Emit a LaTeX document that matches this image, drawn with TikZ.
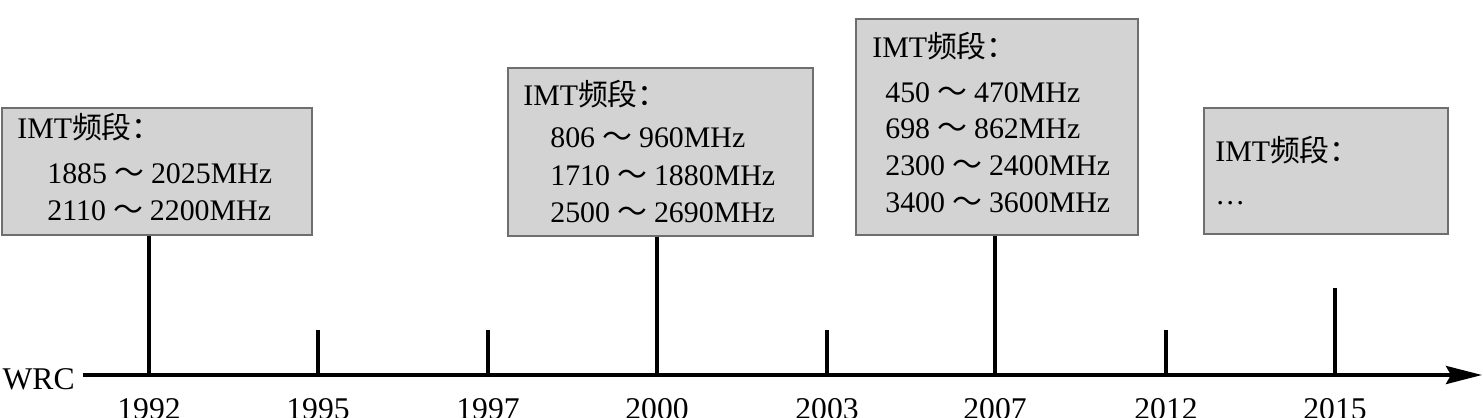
\documentclass[tikz,border=0pt]{standalone}
\usepackage{fontspec}
\setmainfont{Liberation Serif}
\newfontfamily\cjk{Noto Sans CJK SC}
\usetikzlibrary{arrows.meta,positioning}
\definecolor{boxfill}{RGB}{211,211,211}
\definecolor{boxline}{RGB}{110,110,110}
\newcommand{\band}[2]{#1\hspace{4pt}{\cjk ～}\hspace{4pt}#2MHz}
\newcommand{\imt}{IMT{\cjk 频段：}}
\tikzset{
  imtbox/.style={draw=boxline, fill=boxfill, line width=1.1pt, inner sep=0pt, anchor=north west},
  lab/.style={inner sep=0pt, anchor=base west, font=\fontsize{17}{20}\selectfont},
  yearlab/.style={inner sep=0pt, font=\fontsize{18}{20}\selectfont},
  axis/.style={line width=2.3pt, -{Stealth[length=0.72cm, width=0.36cm, inset=0.1cm]}},
  tick/.style={line width=2.3pt}
}
\begin{document}
\begin{tikzpicture}[x=0.02cm, y=-0.02cm]
\useasboundingbox (0,0) rectangle (1483,417);
% boxes
\node[imtbox, minimum width=6.2cm, minimum height=2.54cm] (box1992) at (1,107) {};
\node[imtbox, minimum width=6.1cm, minimum height=3.36cm] (box2000) at (507,67) {};
\node[imtbox, minimum width=5.64cm, minimum height=4.32cm] (box2007) at (855,18) {};
\node[imtbox, minimum width=4.88cm, minimum height=2.52cm] (box2015) at (1203,107) {};
% box texts
\node[lab] (h1992) at (17,138) {\imt};
\node[lab] (l1992a) at (47,183) {\band{1885}{2025}};
\node[lab] (l1992b) at (47,220) {\band{2110}{2200}};
\node[lab] (h2000) at (523,105) {\imt};
\node[lab] (l2000a) at (550,147) {\band{806}{960}};
\node[lab] (l2000b) at (550,185) {\band{1710}{1880}};
\node[lab] (l2000c) at (550,222) {\band{2500}{2690}};
\node[lab] (h2007) at (872,57) {\imt};
\node[lab] (l2007a) at (885,102) {\band{450}{470}};
\node[lab] (l2007b) at (885,138) {\band{698}{862}};
\node[lab] (l2007c) at (885,175) {\band{2300}{2400}};
\node[lab] (l2007d) at (885,212) {\band{3400}{3600}};
\node[lab] (h2015) at (1215,161) {\imt};
\node[lab] (l2015a) at (1215,204) {…};
% time axis
\coordinate (start) at (83,375);
\coordinate (end) at (1482,375);
\node[yearlab, left=0.16cm of start, yshift=-0.08cm] (wrc) {WRC};
\draw[axis] (start) -- (end);
\foreach \yr/\x in {1992/149, 1995/318, 1997/488, 2000/657, 2003/827, 2007/995, 2012/1166, 2015/1335} {
  \coordinate (t\yr) at (\x,375);
  \node[yearlab, below=0.46cm of t\yr] (y\yr) {\yr};
}
\foreach \yr in {1995, 1997, 2003, 2012}
  \draw[tick] (t\yr) -- ++(0,-45);
\foreach \yr in {1992, 2000, 2007}
  \draw[tick] (t\yr) -- (t\yr |- box\yr.south);
\coordinate (top2015) at (1335,288);
\draw[tick] (t2015) -- (top2015);
\end{tikzpicture}
\end{document}
